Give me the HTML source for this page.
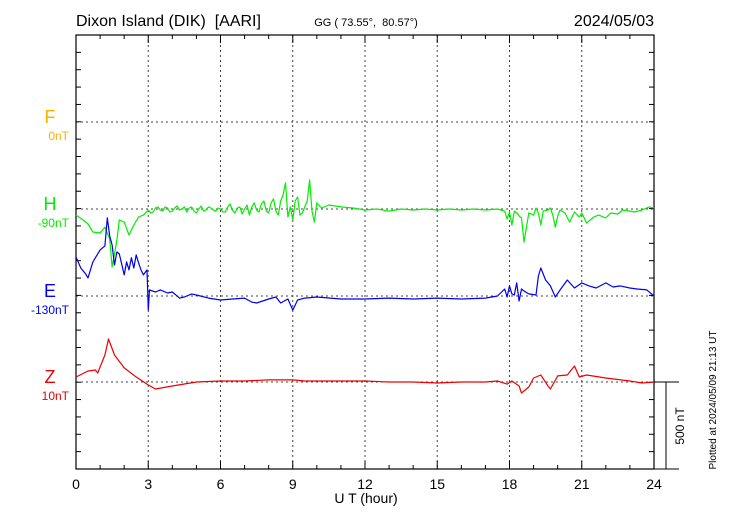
<!DOCTYPE html>
<html><head><meta charset="utf-8"><style>
body{margin:0;background:#fff;}
svg{display:block;font-family:"Liberation Sans",sans-serif;}
</style></head><body>
<svg id="c" width="730" height="520" viewBox="0 0 730 520"></svg>
<script>
const hTimes=[0,0.3,0.5,0.7,1.0,1.2,1.4,1.5,1.6,1.7,1.8,2.0,2.2,2.4,2.6,2.8,3,3.1,3.2,3.3,3.4,3.5,3.6,3.7,3.8,3.9,4,4.1,4.2,4.3,4.4,4.5,4.6,4.7,4.8,4.9,5,5.1,5.2,5.3,5.4,5.5,5.6,5.7,5.8,5.9,6,6.1,6.2,6.3,6.4,6.5,6.6,6.7,6.8,6.9,7,7.1,7.2,7.3,7.4,7.5,7.6,7.7,7.8,7.9,8,8.1,8.2,8.3,8.4,8.5,8.6,8.7,8.8,8.9,9,9.1,9.2,9.3,9.4,9.5,9.6,9.7,9.8,9.9,10,10.2,10.5,11,11.5,12,12.5,13,13.5,14,14.5,15,15.5,16,16.5,17,17.5,17.8,17.9,18,18.1,18.2,18.3,18.4,18.5,18.6,18.8,19,19.1,19.2,19.3,19.4,19.6,19.7,19.8,19.9,20,20.1,20.3,20.5,20.7,20.9,21,21.2,21.5,21.7,22,22.2,22.5,22.7,23,23.2,23.5,23.8,24];
const hValues=[-35,-63,-86,-132,-138,-104,-173,-334,-259,-178,-63,-75,-150,-92,-46,-35,-6,-23,-17,6,12,-6,-12,12,6,-17,-12,6,17,-6,0,12,-17,6,12,-12,-23,0,17,-12,-6,12,6,-6,-12,6,0,-17,-17,12,29,-6,-23,6,12,-29,0,23,-35,12,35,-6,-17,29,46,-12,-23,35,58,-12,-35,46,81,150,-46,12,-63,46,69,-35,-23,12,46,167,-12,-75,35,6,23,12,6,-6,0,-12,0,-6,0,-6,0,-6,0,-6,0,-12,-58,-17,-92,-12,-23,-40,-52,-190,-23,-35,6,-23,-92,-12,-6,6,-35,-104,-40,-6,-23,-75,-17,-46,-23,-81,-46,-35,-52,-23,-29,-6,-12,-17,-6,12,6,40];
const eTimes=[0,0.2,0.4,0.5,0.7,1,1.2,1.3,1.4,1.5,1.6,1.7,1.8,2,2.1,2.2,2.3,2.4,2.5,2.6,2.7,2.8,2.95,3,3.05,3.3,3.5,3.8,4,4.3,4.5,4.8,5,5.5,6,6.5,7,7.3,7.5,8,8.3,8.5,8.8,9,9.2,9.5,10,11,12,13,14,15,16,17,17.5,17.8,17.9,18,18.1,18.2,18.3,18.4,18.5,18.6,18.8,19.1,19.2,19.3,19.5,19.7,19.9,20.1,20.4,20.7,21,21.3,21.6,22,22.3,22.6,23,23.3,23.7,24];
const eValues=[224,161,127,104,196,265,288,449,345,293,178,253,242,121,196,150,220,161,236,190,150,121,150,-81,35,23,35,17,23,-12,-6,12,6,-12,-23,-17,-12,-35,-40,-17,-6,-40,-17,-81,-23,-12,-6,-17,-17,-12,-17,-12,-17,-12,0,40,-6,58,12,6,75,-29,40,29,12,6,115,161,92,58,-6,35,92,46,75,58,46,75,52,58,46,40,35,0];
const zTimes=[0,0.5,0.8,0.9,1.2,1.35,1.6,2,2.5,3,3.3,4,5,6,7,8,9,9.5,10,11,12,13,14,15,16,17,17.5,17.9,18.1,18.4,18.5,18.8,19,19.3,19.6,19.7,20,20.4,20.7,20.9,21.2,22,23,23.5,24];
const zValues=[29,63,69,52,155,247,155,81,29,-17,-40,-23,0,6,6,12,12,6,6,6,6,0,0,-6,0,0,6,-12,6,-23,-63,-29,23,40,-23,-40,35,40,92,29,40,23,6,-6,0];
const xTicks=[0,3,6,9,12,15,18,21,24];
const compNames=["F","H","E","Z"];
const compBase=["0nT","-90nT","-130nT","10nT"];
const compColors=["#ffb000","#00ee00","#0000ee","#ee0000"];

const L=76,R=654,T=35,B=469;
const pxPerNT=87/500;
const baseY=[122,209,296,382];
const xs=t=>L+(R-L)*t/24;
const ys=(v,i)=>baseY[i]-v*pxPerNT;
const svg=document.getElementById('c');
const NS="http://www.w3.org/2000/svg";
function mk(tag,attrs,parent){const e=document.createElementNS(NS,tag);for(const k in attrs)e.setAttribute(k,attrs[k]);(parent||svg).appendChild(e);return e;}

for(let h=3;h<24;h+=3){const g=mk('line',{x1:xs(h),x2:xs(h),y1:T,y2:B,stroke:'#444','stroke-width':1,'stroke-dasharray':'2,3'});

}
baseY.forEach(y=>{const g=mk('line',{x1:L,x2:R,y1:y,y2:y,stroke:'#444','stroke-width':1,'stroke-dasharray':'2,3'});

});
for(let h=0;h<=24;h++){const len=h%3===0?8:4;
const a=mk('line',{x1:xs(h),x2:xs(h),y1:B,y2:B-len,stroke:'#000'});


const b=mk('line',{x1:xs(h),x2:xs(h),y1:T,y2:T+len,stroke:'#000'});

}
for(let k=1;k<25;k++){const y=T+k*(B-T)/25;
const a=mk('line',{x1:L,x2:L+5,y1:y,y2:y,stroke:'#000'});


const b=mk('line',{x1:R-5,x2:R,y1:y,y2:y,stroke:'#000'});

}
const fr=mk('rect',{x:L,y:T,width:R-L,height:B-T,fill:'none',stroke:'#000','stroke-width':1.2});


xTicks.forEach(t=>{const e=mk('text',{x:xs(t),y:B+20,'font-size':14,'text-anchor':'middle'});e.textContent=t;

});
function series(times,vals,i,name){const d=times.map((t,j)=>(j?'L':'M')+xs(t).toFixed(1)+','+ys(vals[j],i).toFixed(1)).join('');
const p=mk('path',{d:d,fill:'none',stroke:compColors[i],'stroke-width':1.2,'stroke-linejoin':'round'});

}
series(hTimes,hValues,1,'h-series');
series(eTimes,eValues,2,'e-series');
series(zTimes,zValues,3,'z-series');
compNames.forEach((n,i)=>{const a=mk('text',{x:50,y:baseY[i]+1,'font-size':18,fill:compColors[i],'text-anchor':'middle'});a.textContent=n;


const b=mk('text',{x:69,y:baseY[i]+18,'font-size':12,fill:compColors[i],'text-anchor':'end'});b.textContent=compBase[i];

});
</script>
<div style="position:absolute;left:0;top:0;width:730px;height:520px;pointer-events:none">
<svg width="730" height="520" style="position:absolute;left:0;top:0">
<text x="76" y="26" font-size="16">Dixon Island (DIK)&#160;&#160;[AARI]</text>
<text x="366" y="26" font-size="11" text-anchor="middle">GG ( 73.55°,&#160;&#160;80.57°)</text>
<text x="654" y="26" font-size="16" text-anchor="end">2024/05/03</text>
<text x="366" y="503" font-size="14" text-anchor="middle">U T (hour)</text>
<line x1="654" x2="679" y1="382" y2="382" stroke="#000"/>
<line x1="654" x2="679" y1="469" y2="469" stroke="#000"/>
<line x1="666" x2="666" y1="382" y2="469" stroke="#000"/>
<text transform="translate(684,426) rotate(-90)" font-size="12" text-anchor="middle">500 nT</text>
<text transform="translate(716,400) rotate(-90)" font-size="10" text-anchor="middle">Plotted at 2024/05/09 21:13 UT</text>
</svg></div>
</body></html>
